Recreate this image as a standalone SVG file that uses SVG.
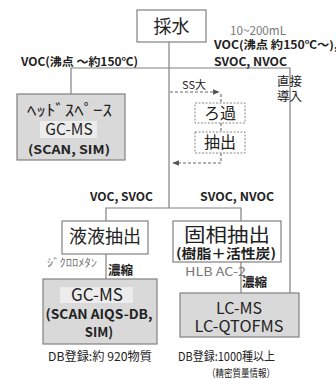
<svg xmlns="http://www.w3.org/2000/svg" width="336" height="380" viewBox="0 0 336 380">
<style>
text{font-family:"Noto Sans CJK JP","Noto Sans",sans-serif;fill:#222}
.b{font-weight:bold}
.g{fill:#777}
.box{fill:#fff;stroke:#808080;stroke-width:1.2}
.gbox{fill:#d9d9d9;stroke:#808080;stroke-width:1.2}
.dbox{fill:#fff;stroke:#888;stroke-width:1;stroke-dasharray:2,1.5}
.ln{fill:none;stroke:#808080;stroke-width:1.2}
.dl{fill:none;stroke:#666;stroke-width:1.1;stroke-dasharray:3,2}
</style>
<defs>
<marker id="ah" viewBox="0 0 10 10" refX="9" refY="5" markerWidth="6" markerHeight="6" orient="auto">
<path d="M0,1 L10,5 L0,9 z" fill="#555"/>
</marker>
</defs>
<rect width="336" height="380" fill="#fff"/>
<g id="connectors">
<path class="ln" d="M169,42 V208"/>
<path class="ln" d="M71,94 V68 H290 V293"/>
<path class="ln" d="M106,221 V208 H241 V221"/>
<path class="ln" d="M106,254 V279"/>
<path class="ln" d="M241,262 V293"/>
<path class="dl" d="M170,92 H219" marker-end="url(#ah)"/>
<path class="dl" d="M221,94 V103"/>
<path class="dl" d="M221,123 V132"/>
<path class="dl" d="M221,153 V163 H173" marker-end="url(#ah)"/>
</g>
<g id="labels">
<text x="230" y="35" font-size="11.5" class="g" textLength="56" lengthAdjust="spacingAndGlyphs">10~200mL</text>
<text x="214" y="49" font-size="11" class="b" textLength="124" lengthAdjust="spacingAndGlyphs">VOC(沸点 約150℃～),</text>
<text x="214" y="66" font-size="11.5" class="b" textLength="73" lengthAdjust="spacingAndGlyphs">SVOC, NVOC</text>
<text x="21" y="66" font-size="11.5" class="b" textLength="117" lengthAdjust="spacingAndGlyphs">VOC(沸点 ～約150℃)</text>
<text x="277" y="86" font-size="12.5">直接</text>
<text x="277" y="101" font-size="12.5">導入</text>
<text x="182" y="89" font-size="11">SS大</text>
<text x="90" y="201" font-size="12" class="b" textLength="63" lengthAdjust="spacingAndGlyphs">VOC, SVOC</text>
<text x="200" y="201" font-size="12" class="b" textLength="74" lengthAdjust="spacingAndGlyphs">SVOC, NVOC</text>
<text x="47" y="267" font-size="11" class="g" textLength="50" lengthAdjust="spacingAndGlyphs">ｼﾞｸﾛﾛﾒﾀﾝ</text>
<text x="108" y="275" font-size="12.5" class="b">濃縮</text>
<text x="185" y="276" font-size="12" class="g" textLength="61" lengthAdjust="spacingAndGlyphs">HLB  AC-2</text>
<text x="242" y="287" font-size="12.5" class="b">濃縮</text>
<text x="48" y="361" font-size="12" textLength="104" lengthAdjust="spacingAndGlyphs">DB登録:約 920物質</text>
<text x="178" y="361" font-size="12" textLength="97" lengthAdjust="spacingAndGlyphs">DB登録:1000種以上</text>
<text x="207" y="377" font-size="10.5" textLength="68" lengthAdjust="spacingAndGlyphs">（精密質量情報）</text>
</g>
<g id="saisui">
<rect class="box" x="137" y="10" width="69" height="32"/>
<text x="171.5" y="33" font-size="18" text-anchor="middle">採水</text>
</g>
<g id="headspace">
<rect class="gbox" x="17" y="94" width="108" height="66"/>
<rect x="40" y="121" width="57" height="17" fill="#ececec"/>
<text x="27" y="116" font-size="15.5" textLength="85" lengthAdjust="spacingAndGlyphs">ﾍｯﾄﾞｽﾍﾟｰｽ</text>
<text x="69" y="135" font-size="15.5" text-anchor="middle">GC-MS</text>
<text x="69" y="154" font-size="12" class="b" text-anchor="middle" textLength="82" lengthAdjust="spacingAndGlyphs">(SCAN, SIM)</text>
</g>
<g id="roka">
<rect class="dbox" x="195" y="103" width="50" height="20"/>
<text x="220" y="119" font-size="16" text-anchor="middle">ろ過</text>
</g>
<g id="chushutsu">
<rect class="dbox" x="195" y="132" width="50" height="21"/>
<text x="220" y="148" font-size="16" text-anchor="middle">抽出</text>
</g>
<g id="ekieki">
<rect class="box" x="62" y="221" width="86" height="33"/>
<text x="105" y="243" font-size="18" text-anchor="middle">液液抽出</text>
</g>
<g id="koso">
<rect class="box" x="173" y="221" width="108" height="41"/>
<text x="227" y="242" font-size="19" text-anchor="middle" textLength="86" lengthAdjust="spacingAndGlyphs">固相抽出</text>
<text x="226" y="258" font-size="13" class="b" text-anchor="middle" textLength="100" lengthAdjust="spacingAndGlyphs">(樹脂＋活性炭)</text>
</g>
<g id="gcms">
<rect class="gbox" x="43" y="279" width="114" height="65"/>
<rect x="60" y="287" width="73" height="16" fill="#ececec"/>
<text x="97" y="301" font-size="17" text-anchor="middle">GC-MS</text>
<text x="99" y="319" font-size="13" class="b" text-anchor="middle" textLength="107" lengthAdjust="spacingAndGlyphs">(SCAN AIQS-DB,</text>
<text x="99" y="337" font-size="13" class="b" text-anchor="middle">SIM)</text>
</g>
<g id="lcms">
<rect class="gbox" x="180" y="293" width="119" height="44"/>
<text x="239" y="314" font-size="16" text-anchor="middle">LC-MS</text>
<text x="239" y="332" font-size="16" text-anchor="middle" textLength="89" lengthAdjust="spacingAndGlyphs">LC-QTOFMS</text>
</g>
</svg>
